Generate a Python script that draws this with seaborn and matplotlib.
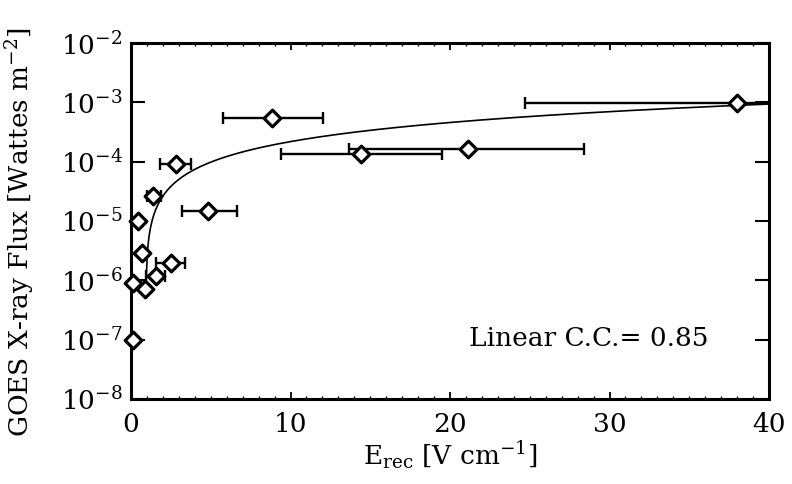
import numpy as np
import pandas as pd
import matplotlib
matplotlib.use("Agg")
import matplotlib.pyplot as plt
from matplotlib.ticker import LogLocator, MultipleLocator, FuncFormatter, NullFormatter
import seaborn as sns

nan = np.nan

# Reconnection electric field (V/cm) and GOES peak flux (W/m^2) per event
e_rec = [38.0, 8.85, 14.4, 21.1, 2.8, 4.85, 1.36, 0.46, 0.67, 2.48, 1.57, 0.88, 0.15, 0.10]
goes_flux = [9.8e-4, 5.4e-4, 1.35e-4, 1.62e-4, 9.0e-5, 1.5e-5, 2.6e-5, 1.0e-5,
             2.9e-6, 2.0e-6, 1.2e-6, 7.1e-7, 8.9e-7, 1.0e-7]
# Lower / upper bounds of the field estimate (nan: no range given)
e_low = [24.67, 5.79, 9.41, 13.64, 1.82, 3.18, 0.98, nan, nan, 1.57, 0.94, nan, nan, nan]
e_high = [51.4, 12.03, 19.5, 28.4, 3.77, 6.63, 1.86, nan, nan, 3.39, 2.13, nan, nan, nan]

# Linear fit  flux = slope * E + intercept
fit_slope = 2.4e-5
fit_intercept = -2.16e-5
cc_label = "Linear C.C.= 0.85"

x_ticks = [0, 10, 20, 30, 40]
y_decades = [-8, -7, -6, -5, -4, -3, -2]

df = pd.DataFrame({"E": e_rec, "F": goes_flux, "lo": e_low, "hi": e_high})

sns.set_theme(style="ticks")
plt.rcParams["font.family"] = ["DejaVu Serif"]
plt.rcParams["mathtext.fontset"] = "dejavuserif"
plt.rcParams["text.color"] = "black"
plt.rcParams["axes.labelcolor"] = "black"

FS = 19

fig = plt.figure(figsize=(7.92, 4.84), dpi=100)
ax = fig.add_axes([0.1654, 0.1756, 0.971 - 0.1654, 0.911 - 0.1756])
ax.set_yscale("log")

# fitted line, drawn where the fit is positive
fit_x = np.linspace(0.93, 40, 400)
fit_y = fit_slope * fit_x + fit_intercept
sns.lineplot(x=fit_x, y=fit_y, color="black", linewidth=1.2, ax=ax, zorder=2)

# horizontal error bars
eb = df.dropna()
ax.errorbar(eb["E"], eb["F"], xerr=[eb["E"] - eb["lo"], eb["hi"] - eb["E"]],
            fmt="none", ecolor="black", elinewidth=1.7, capsize=4.5, capthick=1.7, zorder=2)

# event markers
sns.scatterplot(data=df, x="E", y="F", marker="D", s=72, facecolor="white",
                edgecolor="black", linewidth=2.3, ax=ax, zorder=4, clip_on=False)

ax.set_xlim(0, 40)
ax.set_ylim(1e-8, 1e-2)
ax.set_xticks(x_ticks)
ax.xaxis.set_minor_locator(MultipleLocator(1))
ax.set_yticks([10.0 ** d for d in y_decades])
ax.yaxis.set_minor_locator(LogLocator(base=10, subs=np.arange(2, 10)))
ax.yaxis.set_minor_formatter(NullFormatter())
ax.yaxis.set_major_formatter(FuncFormatter(lambda v, p: r"$10^{%d}$" % int(round(np.log10(v)))))

ax.tick_params(axis="both", which="both", direction="in", top=True, right=True,
               colors="black", labelsize=FS)
ax.tick_params(axis="x", which="major", length=5, width=1.3, pad=9)
ax.tick_params(axis="x", which="minor", length=2.5, width=1.0)
ax.tick_params(axis="y", which="major", length=10, width=1.5, pad=6)
ax.tick_params(axis="y", which="minor", length=5, width=1.3)
for s in ax.spines.values():
    s.set_linewidth(2.2)
    s.set_color("black")

ax.set_xlabel(r"E$_{\mathrm{rec}}$ [V cm$^{-1}$]", fontsize=FS, labelpad=2)
ax.set_ylabel(r"GOES X-ray Flux [Wattes m$^{-2}$]", fontsize=FS)
ax.yaxis.set_label_coords(-0.147, 0.47)
ax.text(21.2, 1.05e-7, cc_label, fontsize=FS, va="center", ha="left")

fig.savefig("out.png", dpi=100)
